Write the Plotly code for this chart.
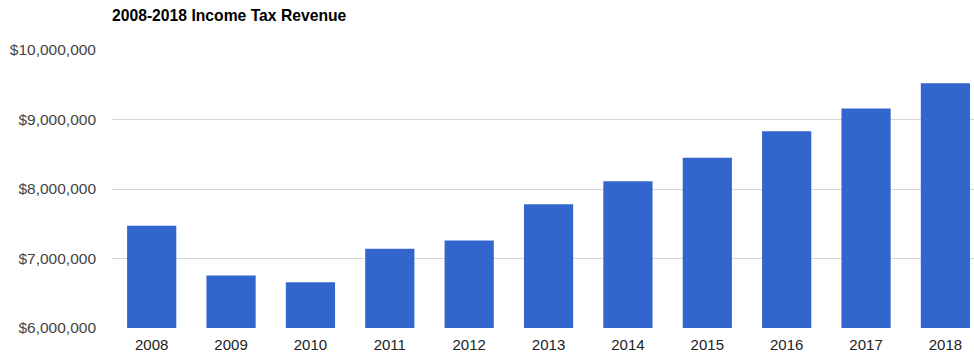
import plotly.graph_objects as go

# Annual income tax revenue, 2008-2018
years = ["2008", "2009", "2010", "2011", "2012", "2013", "2014", "2015", "2016", "2017", "2018"]
revenue = [7470000, 6755000, 6660000, 7140000, 7260000, 7780000, 8110000, 8450000, 8830000, 9160000, 9520000]

y_ticks = [6000000, 7000000, 8000000, 9000000, 10000000]
y_tick_labels = ["$6,000,000", "$7,000,000", "$8,000,000", "$9,000,000", "$10,000,000"]

W, H = 974, 356
left, top, bottom = 112, 50, 28

fig = go.Figure(
    go.Bar(
        x=years,
        y=revenue,
        marker=dict(color="#3366CC", line=dict(width=0)),
        hoverinfo="x+y",
    )
)

fig.update_layout(
    width=W,
    height=H,
    margin=dict(l=left, r=0, t=top, b=bottom),
    paper_bgcolor="white",
    plot_bgcolor="white",
    bargap=0.38,
    showlegend=False,
    font=dict(family="Liberation Sans, Arial, sans-serif", size=15, color="#222222"),
    title=dict(
        text="<b>2008-2018 Income Tax Revenue</b>",
        font=dict(family="Liberation Sans, Arial, sans-serif", size=15.7, color="#000000"),
        x=0,
        xref="paper",
        xanchor="left",
        y=1 - 16 / H,
        yref="container",
        yanchor="middle",
    ),
)

fig.update_xaxes(
    type="category",
    range=[-0.5, 10.36],
    showgrid=False,
    showline=False,
    ticks="",
    tickfont=dict(size=15, color="#222222"),
    ticklabelstandoff=6,
)

fig.update_yaxes(
    range=[6000000, 10000000],
    tickvals=y_ticks,
    ticktext=y_tick_labels,
    showgrid=True,
    gridcolor="#d6d6d6",
    gridwidth=1,
    zeroline=False,
    showline=False,
    ticks="",
    tickfont=dict(size=15.5, color="#444444"),
    ticklabelstandoff=15,
)

fig.write_html("out.html")
